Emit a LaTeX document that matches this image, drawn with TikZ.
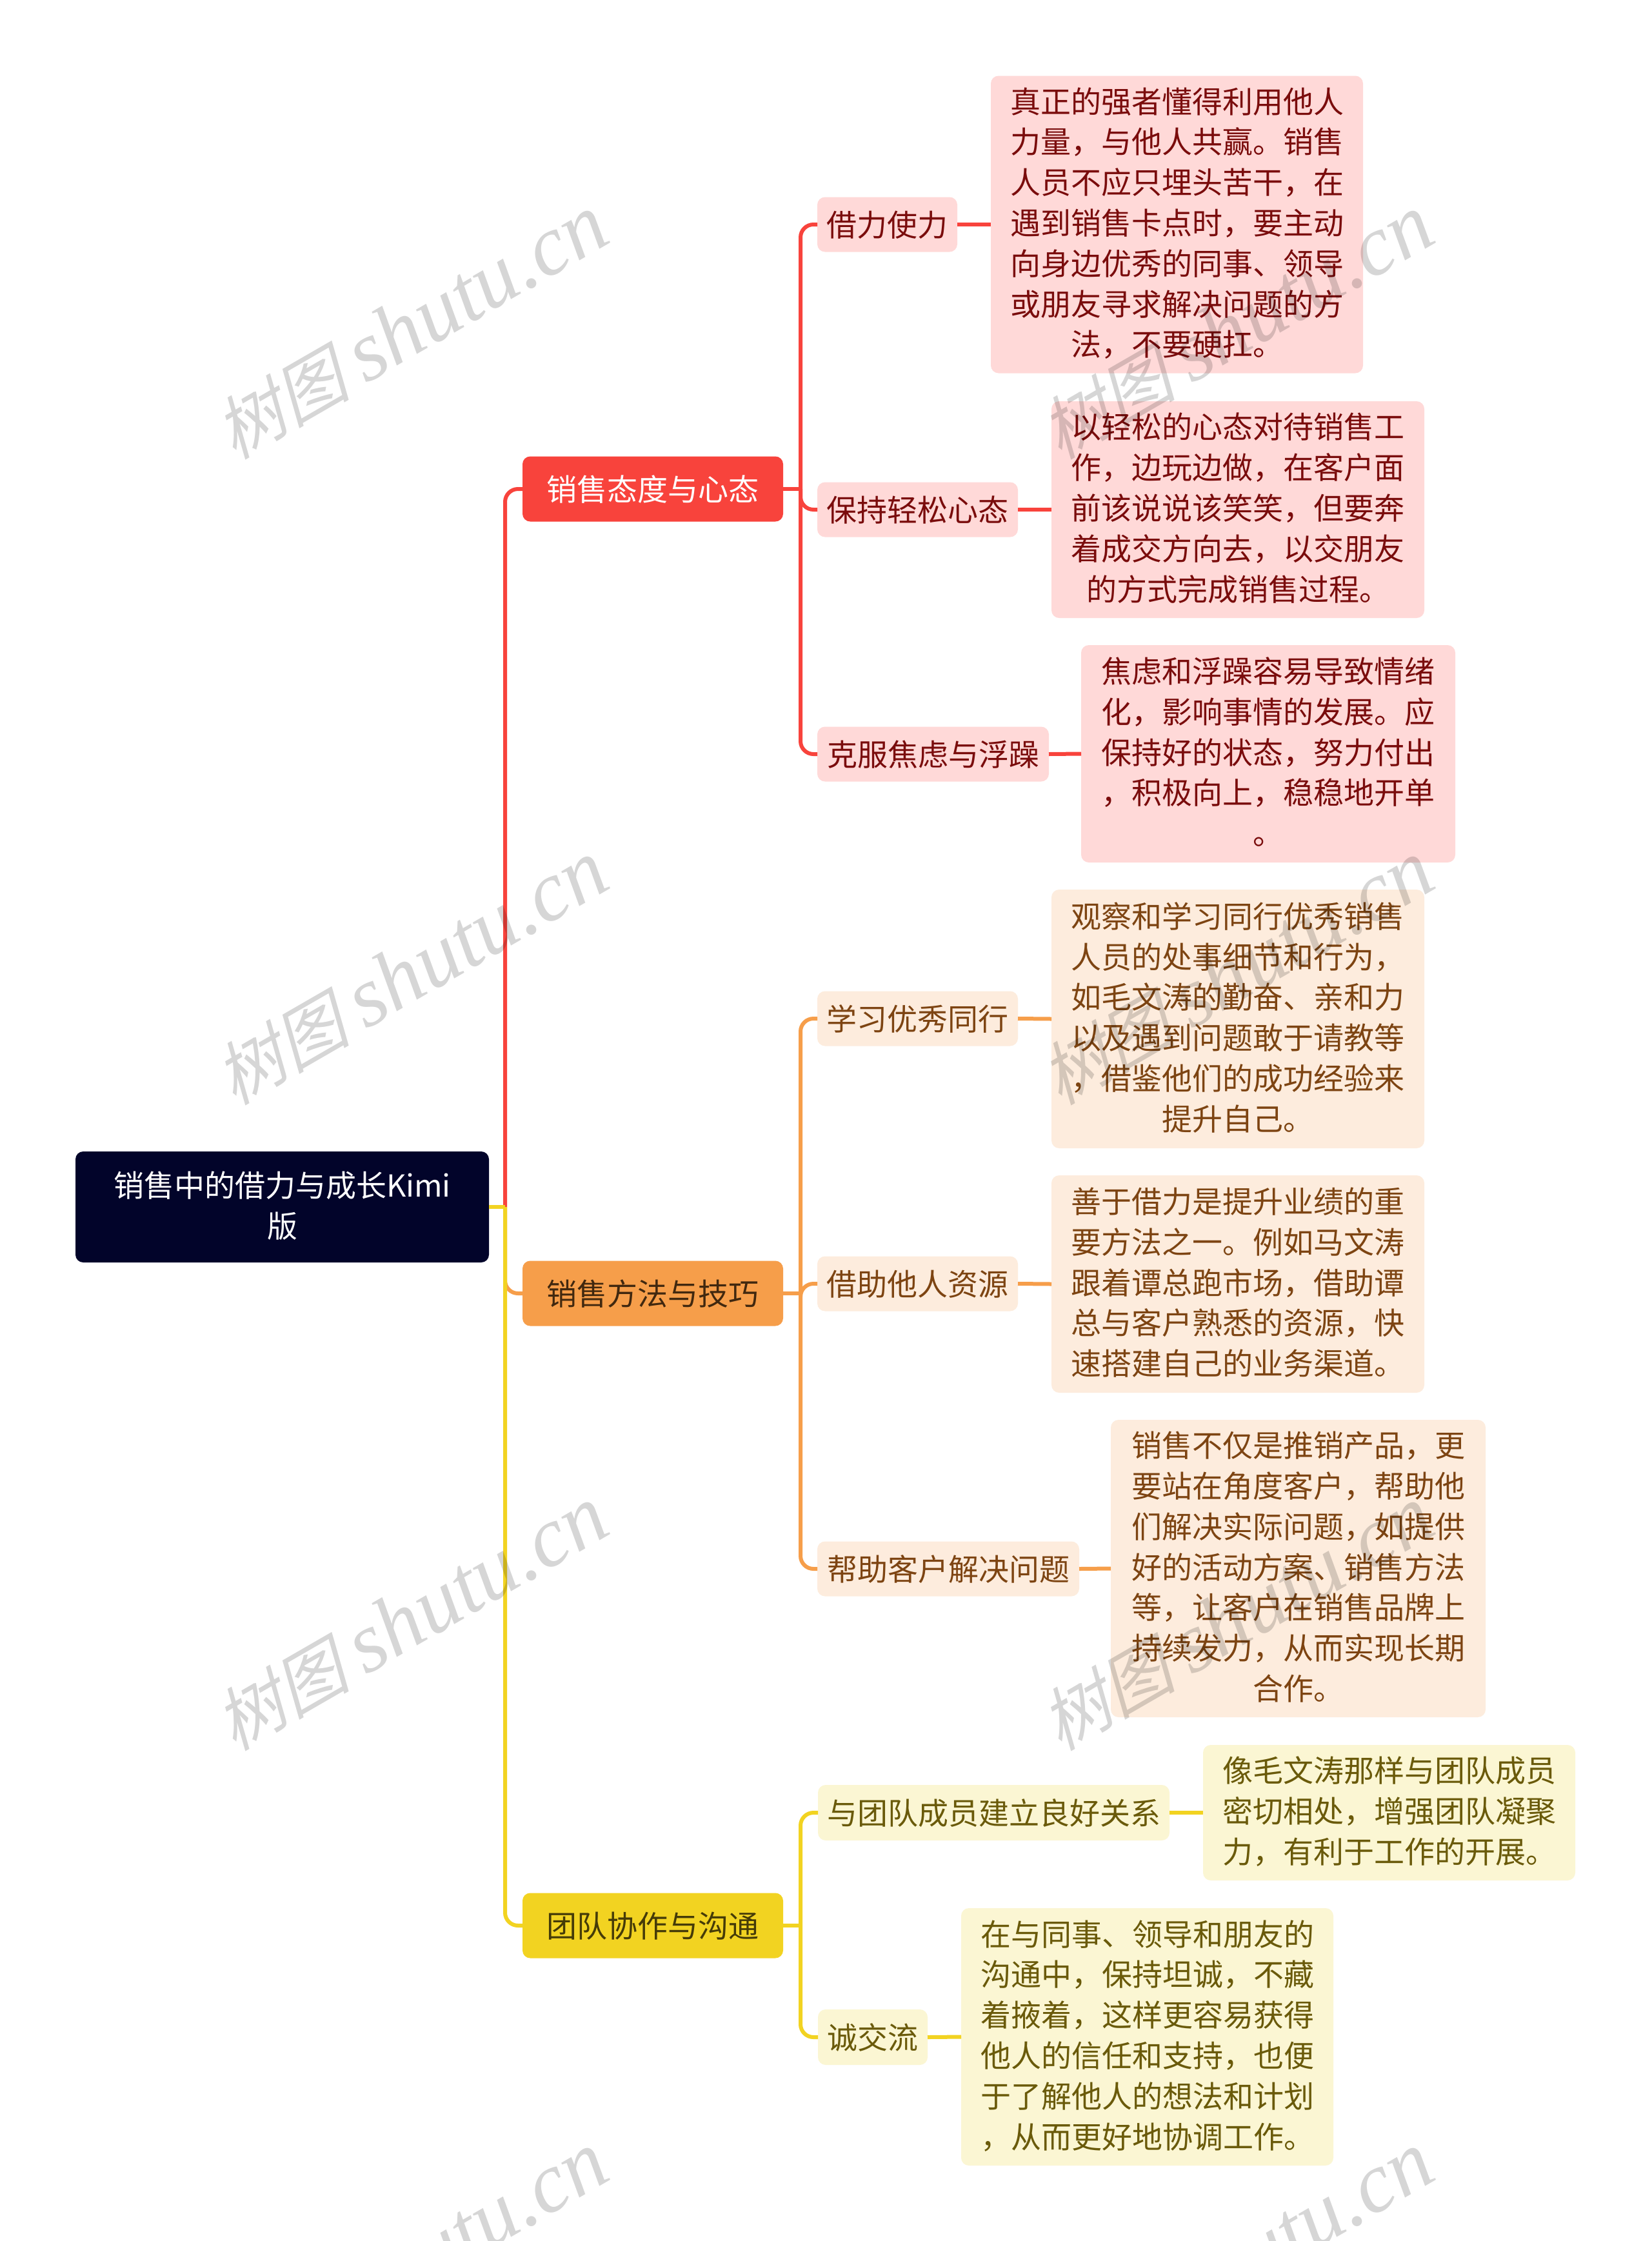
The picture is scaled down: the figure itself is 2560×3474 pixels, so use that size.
\documentclass[tikz,border=0pt]{standalone}
\usepackage{fontspec}
\setmainfont{Noto Sans CJK SC}
\newfontfamily\wmcjk[FakeSlant=0.25]{Noto Sans CJK SC}
\newfontfamily\wmlat{Liberation Serif}
\definecolor{rootc}{HTML}{02042A}
\definecolor{redm}{HTML}{F8433C}
\definecolor{redl}{HTML}{FFD9D8}
\definecolor{redt}{HTML}{7A0C0C}
\definecolor{ormm}{HTML}{F69E4A}
\definecolor{orml}{HTML}{FDECDD}
\definecolor{ormt}{HTML}{7D4412}
\definecolor{ormd}{HTML}{41280F}
\definecolor{yelm}{HTML}{F2D321}
\definecolor{yell}{HTML}{FBF6D3}
\definecolor{yelt}{HTML}{6A5A0A}
\definecolor{yeld}{HTML}{453B08}
\newcommand{\lnstrut}{\rule[-8.5pt]{0pt}{54.3pt}}
\tikzset{
  box/.style 2 args={minimum width=#1pt,minimum height=#2pt},
  base/.style={shape=rectangle,rounded corners=12pt,inner sep=0pt,outer sep=0pt,align=center,
    font=\fontsize{47pt}{62.8pt}\selectfont,
    execute at begin node=\lnstrut,execute at end node=\lnstrut},
  rootbox/.style={base,fill=rootc,text=white},
  rm/.style={base,fill=redm,text=white},
  rl/.style={base,fill=redl,text=redt},
  om/.style={base,fill=ormm,text=ormd},
  ol/.style={base,fill=orml,text=ormt},
  ym/.style={base,fill=yelm,text=yeld},
  yl/.style={base,fill=yell,text=yelt},
  lnk/.style={line width=6pt,line cap=butt},
  elbow/.style={to path={[rounded corners=20pt] (\tikztostart) |- (\tikztotarget)}},
  wm/.style={anchor=base west,rotate=30,text=black,text opacity=0.16,inner sep=0pt,outer sep=0pt},
}
\begin{document}
\begin{tikzpicture}[x=1pt,y=-1pt]
\useasboundingbox (0,0) rectangle (2560,3474);
\fill[white] (0,0) rectangle (2560,3474);

% trunk points
\coordinate (t0) at (783,1871);
\coordinate (ta) at (1241,758);
\coordinate (tb) at (1241,2005);
\coordinate (tc) at (1241,2985);

% nodes
\node[rootbox,box={641}{172}] (root) at (437.5,1871) {销售中的借力与成长Kimi\\版};

\node[rm,box={404}{101}] (A) at (1012,758) {销售态度与心态};
\node[om,box={404}{101}] (B) at (1012,2005) {销售方法与技巧};
\node[ym,box={404}{101}] (C) at (1012,2985) {团队协作与沟通};

\node[rl,box={217}{85}] (A1) at (1375.5,348) {借力使力};
\node[rl,box={311}{85}] (A2) at (1422.5,790) {保持轻松心态};
\node[rl,box={359}{85}] (A3) at (1446.5,1169) {克服焦虑与浮躁};

\node[rl,box={577}{461}] (A1x) at (1824.5,348) {真正的强者懂得利用他人\\力量，与他人共赢。销售\\人员不应只埋头苦干，在\\遇到销售卡点时，要主动\\向身边优秀的同事、领导\\或朋友寻求解决问题的方\\法，不要硬扛。};
\node[rl,box={578}{336}] (A2x) at (1919,790) {以轻松的心态对待销售工\\作，边玩边做，在客户面\\前该说说该笑笑，但要奔\\着成交方向去，以交朋友\\的方式完成销售过程。};
\node[rl,box={580}{337}] (A3x) at (1966,1168.5) {焦虑和浮躁容易导致情绪\\化，影响事情的发展。应\\保持好的状态，努力付出\\，积极向上，稳稳地开单\\。};

\node[ol,box={311}{85}] (B1) at (1422.5,1579) {学习优秀同行};
\node[ol,box={311}{85}] (B2) at (1422.5,1990) {借助他人资源};
\node[ol,box={406}{85}] (B3) at (1470,2432) {帮助客户解决问题};

\node[ol,box={578}{401}] (B1x) at (1919,1579.5) {观察和学习同行优秀销售\\人员的处事细节和行为，\\如毛文涛的勤奋、亲和力\\以及遇到问题敢于请教等\\，借鉴他们的成功经验来\\提升自己。};
\node[ol,box={578}{337}] (B2x) at (1919,1990.5) {善于借力是提升业绩的重\\要方法之一。例如马文涛\\跟着谭总跑市场，借助谭\\总与客户熟悉的资源，快\\速搭建自己的业务渠道。};
\node[ol,box={581}{461}] (B3x) at (2012.5,2431.5) {销售不仅是推销产品，更\\要站在角度客户，帮助他\\们解决实际问题，如提供\\好的活动方案、销售方法\\等，让客户在销售品牌上\\持续发力，从而实现长期\\合作。};

\node[yl,box={545}{86}] (C1) at (1540.5,2810) {与团队成员建立良好关系};
\node[yl,box={170}{86}] (C2) at (1353,3158) {诚交流};

\node[yl,box={577}{210}] (C1x) at (2153.5,2810) {像毛文涛那样与团队成员\\密切相处，增强团队凝聚\\力，有利于工作的开展。};
\node[yl,box={577}{399}] (C2x) at (1778.5,3157.5) {在与同事、领导和朋友的\\沟通中，保持坦诚，不藏\\着掖着，这样更容易获得\\他人的信任和支持，也便\\于了解他人的想法和计划\\，从而更好地协调工作。};

% connectors: root to main branches
\draw[lnk,redm,elbow] (t0) to (A.west);
\draw[lnk,ormm,elbow] (t0) to (B.west);
\draw[lnk,yelm,elbow] (t0) to (C.west);
\draw[lnk,yelm] (root.east) -- (t0);

% red branch
\draw[lnk,redm] (A.east) -- (ta);
\draw[lnk,redm,elbow] (ta) to (A1.west);
\draw[lnk,redm,elbow] (ta) to (A2.west);
\draw[lnk,redm,elbow] (ta) to (A3.west);
\draw[lnk,redm] (A1.east) -- (A1x.west);
\draw[lnk,redm] (A2.east) -- (A2x.west);
\draw[lnk,redm] (A3.east) -- (A3x.west);

% orange branch
\draw[lnk,ormm] (B.east) -- (tb);
\draw[lnk,ormm,elbow] (tb) to (B1.west);
\draw[lnk,ormm,elbow] (tb) to (B2.west);
\draw[lnk,ormm,elbow] (tb) to (B3.west);
\draw[lnk,ormm] (B1.east) -- (B1x.west);
\draw[lnk,ormm] (B2.east) -- (B2x.west);
\draw[lnk,ormm] (B3.east) -- (B3x.west);

% yellow branch
\draw[lnk,yelm] (C.east) -- (tc);
\draw[lnk,yelm,elbow] (tc) to (C1.west);
\draw[lnk,yelm,elbow] (tc) to (C2.west);
\draw[lnk,yelm] (C1.east) -- (C1x.west);
\draw[lnk,yelm] (C2.east) -- (C2x.west);

% watermark
\begin{scope}
\clip (0,0) rectangle (2560,3474);
\foreach \i in {0,1}
  \foreach \j in {0,1,2,3}
    \node[wm] (wm\i\j) at ({363+1280*\i},{713+1001*\j}) {\fontsize{106pt}{106pt}\wmcjk 树图\hspace{24pt}\fontsize{132pt}{132pt}\wmlat\itshape shutu.cn};
\end{scope}
\end{tikzpicture}
\end{document}
